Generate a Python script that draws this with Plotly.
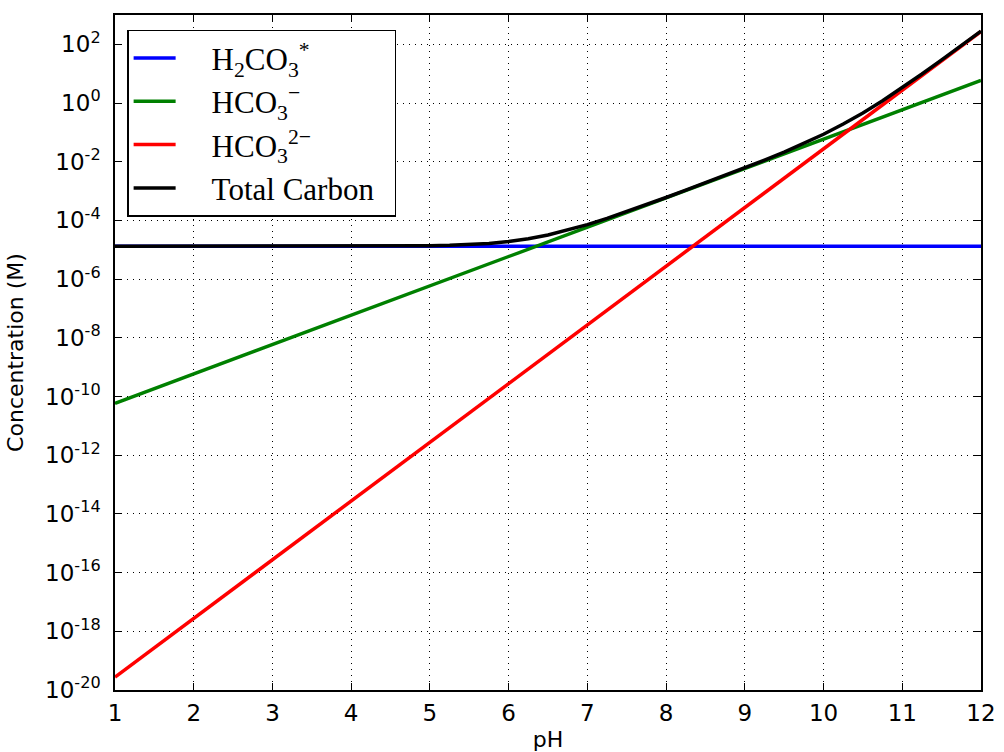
import plotly.graph_objects as go

# pH values for the straight species lines
pH = [1, 2, 3, 4, 5, 6, 7, 8, 9, 10, 11, 12]
h2co3 = [1.32e-5] * 12
hco3 = [5.9e-11, 5.9e-10, 5.9e-9, 5.9e-8, 5.9e-7, 5.9e-6, 5.9e-5, 5.9e-4,
        5.9e-3, 5.9e-2, 0.59, 5.9]
co3 = [2.75e-20, 2.75e-18, 2.75e-16, 2.75e-14, 2.75e-12, 2.75e-10, 2.75e-8,
       2.75e-6, 2.75e-4, 2.75e-2, 2.75, 275]

# Total carbon, finer pH steps
pH_total = [1, 1.25, 1.5, 1.75, 2, 2.25, 2.5, 2.75, 3, 3.25, 3.5, 3.75,
            4, 4.25, 4.5, 4.75, 5, 5.25, 5.5, 5.75, 6, 6.25, 6.5, 6.75,
            7, 7.25, 7.5, 7.75, 8, 8.25, 8.5, 8.75, 9, 9.25, 9.5, 9.75,
            10, 10.25, 10.5, 10.75, 11, 11.25, 11.5, 11.75, 12]
total = [1.32e-5, 1.32e-5, 1.32e-5, 1.32e-5, 1.32e-5, 1.32e-5, 1.32e-5, 1.32e-5,
         1.32e-5, 1.32e-5, 1.32e-5, 1.32e-5,
         1.33e-5, 1.33e-5, 1.34e-5, 1.35e-5, 1.38e-5, 1.43e-5, 1.51e-5, 1.65e-5,
         1.91e-5, 2.37e-5, 3.18e-5, 4.63e-5, 7.21e-5, 1.18e-4, 1.99e-4, 3.44e-4,
         6.05e-4, 1.07e-3, 1.90e-3, 3.41e-3, 6.18e-3, 1.14e-2, 2.14e-2, 4.18e-2,
         8.64e-2, 0.192, 0.461, 1.20, 3.34, 9.75, 29.4, 90.3, 281]

y_tickvals = [1e-20, 1e-18, 1e-16, 1e-14, 1e-12, 1e-10, 1e-8, 1e-6, 1e-4, 1e-2, 1e0, 1e2]
y_ticktext = ["10<sup>-20</sup>", "10<sup>-18</sup>", "10<sup>-16</sup>", "10<sup>-14</sup>",
              "10<sup>-12</sup>", "10<sup>-10</sup>", "10<sup>-8</sup>", "10<sup>-6</sup>",
              "10<sup>-4</sup>", "10<sup>-2</sup>", "10<sup>0</sup>", "10<sup>2</sup>"]
x_tickvals = [1, 2, 3, 4, 5, 6, 7, 8, 9, 10, 11, 12]

names = ["H<sub>2</sub>CO<sub>3</sub><sup>*</sup>",
         "HCO<sub>3</sub><sup>−</sup>",
         "HCO<sub>3</sub><sup>2−</sup>",
         "Total Carbon"]
pad = "\u00a0\u00a0\u00a0\u00a0"
tail = "\u00a0\u00a0"

fig = go.Figure()
fig.add_trace(go.Scatter(x=pH, y=h2co3, mode="lines", name=pad + names[0],
                         line=dict(color="#0000ff", width=3.5)))
fig.add_trace(go.Scatter(x=pH, y=hco3, mode="lines", name=pad + names[1],
                         line=dict(color="#008000", width=3.5)))
fig.add_trace(go.Scatter(x=pH, y=co3, mode="lines", name=pad + names[2],
                         line=dict(color="#ff0000", width=3.5)))
fig.add_trace(go.Scatter(x=pH_total, y=total, mode="lines", name=pad + names[3] + tail,
                         line=dict(color="#000000", width=3.5)))

axis_common = dict(showline=True, linecolor="black", linewidth=1.5, mirror="allticks",
                   ticks="inside", ticklen=7, tickcolor="black", tickwidth=1,
                   showgrid=True, gridcolor="black", gridwidth=1, griddash="1px,5px",
                   zeroline=False, automargin=False,
                   tickfont=dict(family="DejaVu Sans", size=23, color="black"))

fig.update_xaxes(range=[1, 12], tickvals=x_tickvals, ticklabelstandoff=2,
                 title=dict(text="pH", font=dict(family="DejaVu Sans", size=22, color="black")),
                 **axis_common)
fig.update_yaxes(type="log", range=[-20, 3], tickvals=y_tickvals, ticktext=y_ticktext,
                 ticklabelstandoff=8,
                 title=dict(text="Concentration (M)",
                            font=dict(family="DejaVu Sans", size=22, color="black")),
                 **axis_common)

fig.update_layout(
    width=1004, height=752,
    margin=dict(l=115, r=23, t=15, b=62),
    plot_bgcolor="white", paper_bgcolor="white",
    showlegend=True,
    legend=dict(x=0.014, y=0.978, xanchor="left", yanchor="top",
                bgcolor="white", bordercolor="black", borderwidth=1.5,
                font=dict(family="Liberation Serif", size=31, color="black"),
                itemwidth=42),
)

fig.write_html("out.html")
